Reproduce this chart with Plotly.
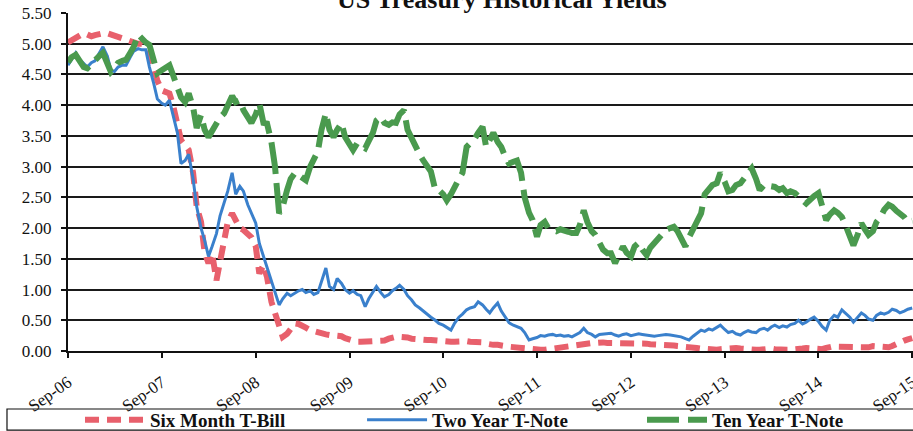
import datetime as dt
import plotly.graph_objects as go

# Semi-monthly observation dates (1st and 15th), Sep 2006 - Sep 2015
START_YEAR, START_MONTH, N_OBS = 2006, 9, 217
dates = []
for i in range(N_OBS):
    m = START_MONTH - 1 + i // 2
    dates.append(dt.date(START_YEAR + m // 12, m % 12 + 1, 1 if i % 2 == 0 else 15))

six_month_tbill = [
    5.02, 5.06, 5.10, 5.15, 5.17, 5.15, 5.12, 5.14, 5.16, 5.17, 5.17, 5.15, 5.12, 5.10, 5.08, 5.06,
    5.04, 5.02, 5.00, 5.00, 4.95, 4.85, 4.60, 4.40, 4.24, 4.22, 4.19, 4.00, 3.70, 3.43, 3.35, 3.27,
    2.90, 2.35, 2.10, 1.60, 1.43, 1.59, 1.15, 1.45, 1.80, 2.10, 2.24, 2.13, 2.00, 1.97, 1.92, 1.85,
    1.70, 1.26, 1.40, 1.20, 0.80, 0.60, 0.39, 0.23, 0.28, 0.35, 0.45, 0.44, 0.42, 0.38, 0.34, 0.32,
    0.29, 0.28, 0.27, 0.26, 0.26, 0.26, 0.24, 0.21, 0.18, 0.16, 0.15, 0.15, 0.15, 0.16, 0.15, 0.15,
    0.15, 0.17, 0.20, 0.22, 0.23, 0.23, 0.23, 0.22, 0.20, 0.19, 0.18, 0.18, 0.18, 0.18, 0.17, 0.16,
    0.15, 0.15, 0.15, 0.15, 0.16, 0.17, 0.16, 0.15, 0.15, 0.15, 0.14, 0.12, 0.10, 0.10, 0.10, 0.10,
    0.08, 0.07, 0.06, 0.05, 0.05, 0.05, 0.04, 0.03, 0.02, 0.02, 0.02, 0.03, 0.04, 0.05, 0.06, 0.07,
    0.07, 0.08, 0.10, 0.12, 0.13, 0.13, 0.13, 0.13, 0.14, 0.14, 0.13, 0.13, 0.13, 0.13, 0.14, 0.14,
    0.13, 0.13, 0.13, 0.12, 0.12, 0.11, 0.11, 0.10, 0.10, 0.10, 0.10, 0.09, 0.08, 0.07, 0.06, 0.05,
    0.05, 0.05, 0.04, 0.03, 0.03, 0.02, 0.02, 0.03, 0.04, 0.05, 0.05, 0.05, 0.04, 0.03, 0.03, 0.02,
    0.02, 0.02, 0.03, 0.04, 0.04, 0.03, 0.02, 0.02, 0.02, 0.02, 0.02, 0.03, 0.04, 0.05, 0.04, 0.03,
    0.02, 0.03, 0.05, 0.07, 0.08, 0.07, 0.07, 0.06, 0.05, 0.05, 0.06, 0.05, 0.05, 0.06, 0.08, 0.07,
    0.06, 0.05, 0.06, 0.08, 0.12, 0.15, 0.17, 0.19, 0.21,
]

two_year_tnote = [
    4.65, 4.75, 4.85, 4.75, 4.68, 4.62, 4.69, 4.72, 4.85, 4.95, 4.80, 4.57, 4.55, 4.62, 4.65, 4.65,
    4.78, 4.88, 4.92, 4.90, 4.90, 4.62, 4.35, 4.10, 4.03, 4.00, 4.08, 3.85, 3.55, 3.05, 3.10, 3.20,
    2.80, 2.35, 2.00, 1.80, 1.54, 1.70, 1.91, 2.20, 2.40, 2.60, 2.90, 2.55, 2.68, 2.60, 2.38, 2.25,
    2.08, 1.75, 1.55, 1.35, 1.15, 0.98, 0.75, 0.85, 0.94, 0.90, 0.95, 0.98, 1.00, 0.95, 0.98, 0.92,
    0.95, 1.15, 1.35, 1.05, 1.00, 1.18, 1.10, 1.00, 0.94, 0.98, 0.92, 0.90, 0.72, 0.85, 0.95, 1.05,
    0.95, 0.88, 0.92, 0.98, 1.02, 1.07, 1.00, 0.90, 0.83, 0.75, 0.70, 0.65, 0.60, 0.55, 0.50, 0.45,
    0.42, 0.38, 0.34, 0.45, 0.55, 0.60, 0.67, 0.70, 0.72, 0.80, 0.75, 0.68, 0.62, 0.70, 0.78, 0.65,
    0.55, 0.46, 0.42, 0.40, 0.37, 0.30, 0.18, 0.20, 0.22, 0.25, 0.24, 0.26, 0.27, 0.25, 0.26, 0.24,
    0.25, 0.23, 0.27, 0.30, 0.37, 0.30, 0.27, 0.23, 0.27, 0.28, 0.29, 0.29, 0.26, 0.24, 0.27, 0.28,
    0.25, 0.26, 0.28, 0.27, 0.26, 0.25, 0.24, 0.25, 0.26, 0.27, 0.26, 0.25, 0.24, 0.23, 0.20, 0.18,
    0.24, 0.29, 0.34, 0.32, 0.36, 0.34, 0.38, 0.42, 0.35, 0.30, 0.32, 0.28, 0.26, 0.30, 0.33, 0.31,
    0.30, 0.35, 0.37, 0.34, 0.39, 0.42, 0.38, 0.41, 0.39, 0.43, 0.45, 0.50, 0.44, 0.47, 0.52, 0.55,
    0.48, 0.40, 0.34, 0.50, 0.58, 0.55, 0.67, 0.62, 0.55, 0.47, 0.55, 0.62, 0.58, 0.52, 0.50, 0.58,
    0.62, 0.60, 0.63, 0.68, 0.66, 0.62, 0.65, 0.68, 0.70,
]

ten_year_tnote = [
    4.70, 4.78, 4.82, 4.72, 4.62, 4.60, 4.68, 4.74, 4.80, 4.85, 4.70, 4.54, 4.60, 4.69, 4.72, 4.74,
    4.85, 4.95, 5.15, 5.08, 5.02, 4.98, 4.70, 4.52, 4.57, 4.62, 4.65, 4.49, 4.25, 4.13, 4.05, 4.19,
    3.97, 3.63, 3.84, 3.60, 3.48, 3.58, 3.71, 3.80, 3.87, 4.00, 4.15, 4.05, 4.08, 3.92, 3.80, 3.71,
    3.85, 4.03, 3.71, 3.70, 3.40, 3.00, 2.24, 2.35, 2.62, 2.80, 2.90, 2.85, 2.80, 2.78, 3.00, 3.10,
    3.25, 3.60, 3.87, 3.60, 3.48, 3.60, 3.71, 3.48, 3.35, 3.27, 3.38, 3.35, 3.30, 3.42, 3.55, 3.75,
    3.81, 3.71, 3.68, 3.72, 3.71, 3.85, 3.92, 3.60, 3.45, 3.32, 3.20, 3.10, 3.00, 2.92, 2.62, 2.62,
    2.55, 2.45, 2.55, 2.68, 2.80, 2.90, 3.32, 3.38, 3.45, 3.55, 3.65, 3.32, 3.45, 3.55, 3.40, 3.32,
    3.15, 3.05, 3.08, 3.10, 2.90, 2.50, 2.25, 2.13, 1.86, 2.05, 2.10, 2.00, 1.97, 1.95, 1.98, 1.97,
    1.94, 1.92, 1.92, 2.05, 2.29, 2.10, 1.95, 1.89, 1.78, 1.65, 1.59, 1.59, 1.43, 1.55, 1.70, 1.60,
    1.54, 1.70, 1.76, 1.65, 1.56, 1.68, 1.76, 1.80, 1.90, 1.97, 2.00, 2.02, 1.95, 1.85, 1.70, 1.85,
    1.97, 2.10, 2.24, 2.55, 2.62, 2.70, 2.73, 2.90, 2.75, 2.60, 2.62, 2.70, 2.73, 2.80, 2.90, 2.97,
    2.80, 2.62, 2.70, 2.72, 2.68, 2.67, 2.62, 2.65, 2.57, 2.60, 2.57, 2.50, 2.45, 2.40, 2.48, 2.52,
    2.57, 2.35, 2.13, 2.22, 2.29, 2.25, 2.18, 2.05, 1.86, 1.72, 1.90, 2.08, 1.98, 1.89, 1.95, 2.10,
    2.18, 2.30, 2.38, 2.35, 2.28, 2.24, 2.18, 2.10, 2.12,
]

y_ticks = [0.0, 0.5, 1.0, 1.5, 2.0, 2.5, 3.0, 3.5, 4.0, 4.5, 5.0, 5.5]
x_ticks = [dt.date(y, 9, 1) for y in range(2006, 2016)]
x_tick_labels = ["Sep-%02d" % (d.year % 100) for d in x_ticks]

SERIF = "Liberation Serif, Times New Roman, serif"
INK = "#111111"

fig = go.Figure()
fig.add_trace(go.Scatter(
    x=dates, y=six_month_tbill, mode="lines", name="Six Month T-Bill", legend="legend",
    line=dict(color="#e8606c", width=6, dash="14px,8px"),
))
fig.add_trace(go.Scatter(
    x=dates, y=two_year_tnote, mode="lines", name="Two Year T-Note", legend="legend2",
    line=dict(color="#3a80cc", width=3),
))
fig.add_trace(go.Scatter(
    x=dates, y=ten_year_tnote, mode="lines", name="Ten Year T-Note", legend="legend3",
    line=dict(color="#4a9a4e", width=6, dash="32px,9px"),
))

# One single-entry legend per series, laid out in a row beneath the axis
legend_style = dict(
    orientation="h", xref="paper", yref="container", xanchor="left",
    y=0.026, yanchor="middle", itemwidth=60,
    font=dict(family=SERIF, size=19, color=INK, weight="bold"),
    bgcolor="rgba(0,0,0,0)", borderwidth=0,
)

fig.update_layout(
    width=913, height=431,
    margin=dict(l=68, r=0, t=13, b=80),
    paper_bgcolor="white", plot_bgcolor="white",
    font=dict(family=SERIF, color=INK),
    showlegend=True,
    legend=dict(legend_style, x=0.0142),
    legend2=dict(legend_style, x=0.348),
    legend3=dict(legend_style, x=0.6793),
    xaxis=dict(
        type="date", range=["2006-09-01", "2015-09-04"],
        tickvals=x_ticks, ticktext=x_tick_labels, tickangle=-35,
        tickfont=dict(family=SERIF, size=17, color=INK),
        showgrid=False, showline=True, linecolor=INK, linewidth=2,
        ticks="outside", ticklen=5, tickwidth=1.5, tickcolor=INK,
        ticklabelstandoff=8, ticklabeloverflow="allow",
        automargin=False, zeroline=False,
    ),
    yaxis=dict(
        range=[0, 5.5], tickvals=y_ticks, tickformat=".2f",
        tickfont=dict(family=SERIF, size=17, color=INK),
        showgrid=True, gridcolor="#1a1a1a", gridwidth=1.5,
        showline=True, linecolor=INK, linewidth=2,
        ticks="outside", ticklen=5, tickwidth=1.5, tickcolor=INK,
        ticklabelstandoff=6, automargin=False, zeroline=False,
    ),
    annotations=[dict(
        text="<b>US Treasury Historical Yields</b>", xref="paper", yref="paper",
        x=0.5136, y=0.99, xanchor="center", yanchor="bottom", showarrow=False,
        font=dict(family=SERIF, size=26, color=INK),
    )],
    shapes=[dict(
        type="rect", xref="paper", yref="paper",
        x0=-0.0722, x1=1.01, y0=-0.1716, y1=-0.234,
        line=dict(color=INK, width=1.2), fillcolor="rgba(0,0,0,0)", layer="below",
    )],
)

fig.write_html("out.html")
